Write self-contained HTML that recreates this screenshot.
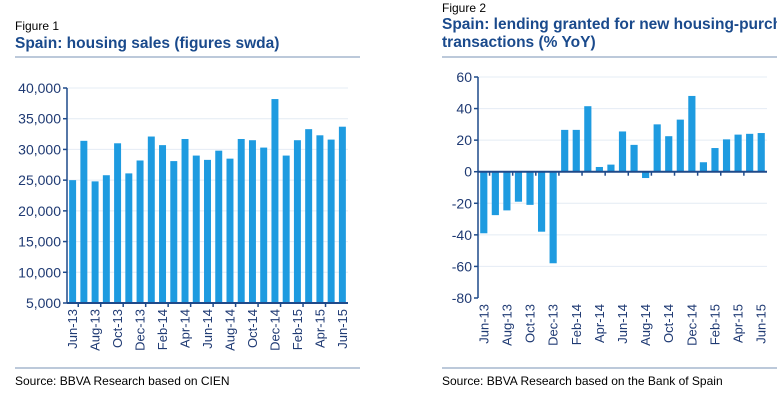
<!DOCTYPE html>
<html><head><meta charset="utf-8">
<style>
html,body{margin:0;padding:0;background:#fff;}
svg{display:block;font-family:"Liberation Sans",Arial,sans-serif;}
</style></head>
<body>
<svg id="s" width="777" height="400" xmlns="http://www.w3.org/2000/svg">
<g>
<text x="15" y="30" font-size="12" fill="#000">Figure 1</text>
<text x="15" y="48" font-size="15.5" font-weight="bold" fill="#1a4a8c">Spain: housing sales (figures swda)</text>
<line x1="15" y1="57" x2="360" y2="57" stroke="#7a93b5" stroke-width="1"/>
</g>
<g>
<text x="442" y="12" font-size="12" fill="#000">Figure 2</text>
<text x="442" y="29" font-size="15.5" font-weight="bold" fill="#1a4a8c">Spain: lending granted for new housing-purchas</text>
<text x="442" y="47" font-size="15.5" font-weight="bold" fill="#1a4a8c">transactions (% YoY)</text>
<line x1="442" y1="57" x2="777" y2="57" stroke="#7a93b5" stroke-width="1"/>
</g>
<line x1="15" y1="368" x2="360" y2="368" stroke="#7a93b5"/>
<line x1="442" y1="368" x2="777" y2="368" stroke="#7a93b5"/>
<text x="15" y="385" font-size="12" fill="#000">Source: BBVA Research based on CIEN</text>
<text x="442" y="385" font-size="12" fill="#000">Source: BBVA Research based on the Bank of Spain</text>
<g id="c1"></g>
<g id="c2"></g>
</svg>
<script>
const months = ["Jun-13","Jul-13","Aug-13","Sep-13","Oct-13","Nov-13","Dec-13","Jan-14","Feb-14","Mar-14","Apr-14","May-14","Jun-14","Jul-14","Aug-14","Sep-14","Oct-14","Nov-14","Dec-14","Jan-15","Feb-15","Mar-15","Apr-15","May-15","Jun-15"];
const sales = [25000,31400,24800,25800,31000,26100,28200,32100,30700,28100,31700,29000,28300,29800,28500,31700,31500,30300,38200,29000,31500,33300,32300,31600,33700];
const salesTicks = [5000,10000,15000,20000,25000,30000,35000,40000];
const lending = [-39,-27.5,-24.5,-19,-21,-38,-58,26.5,26.5,41.5,3,4.5,25.5,17,-4,30,22.5,33,48,6,15,20.5,23.5,24,24.5];
const lendingTicks = [-80,-60,-40,-20,0,20,40,60];

const NS="http://www.w3.org/2000/svg";
function mk(parent,tag,attrs){const e=document.createElementNS(NS,tag);for(const k in attrs)e.setAttribute(k,attrs[k]);parent.appendChild(e);return e;}
const BLUE="#1e9be0", AX="#1f4a8a", TXT="#1f3a73";

function draw(g, vals, ticks, x0, x1, yTop, yBot, vMin, vMax, base){
  const y=v=>yBot-(v-vMin)/(vMax-vMin)*(yBot-yTop);
  const bw=(x1-x0)/vals.length;
  ticks.forEach(t=>{
    if(t!==vMin && t!==base){
      const l=mk(g,'line',{x1:x0,x2:x1,y1:y(t),y2:y(t),stroke:'#e4ecf4','stroke-width':1});
      
      
    }
    const tx=mk(g,'text',{x:x0-6,y:y(t)+5,'font-size':14,'text-anchor':'end',fill:TXT});
    tx.textContent=t.toLocaleString('en-US');
    
    
    mk(g,'line',{x1:x0-4,x2:x0,y1:y(t),y2:y(t),stroke:AX,'stroke-width':1.5});
  });
  vals.forEach((v,i)=>{
    const cx=x0+bw*(i+0.5), w=bw*0.62;
    const r=mk(g,'rect',{x:cx-w/2,y:Math.min(y(v),y(base)),width:w,height:Math.abs(y(v)-y(base)),fill:BLUE});
    
    
  });
  mk(g,'line',{x1:x0,x2:x0,y1:yTop,y2:yBot,stroke:AX,'stroke-width':1.5});
  mk(g,'line',{x1:x0,x2:x1,y1:y(base),y2:y(base),stroke:AX,'stroke-width':2});
  vals.forEach((v,i)=>{
    if(i%2===1) mk(g,'line',{x1:x0+bw*i,x2:x0+bw*i,y1:y(base),y2:y(base)+4,stroke:AX,'stroke-width':1.5});
    if(i%2===0){
      const cx=x0+bw*(i+0.5);
      const t=mk(g,'text',{x:0,y:0,'font-size':13,'text-anchor':'end',fill:TXT,transform:`translate(${cx+4.5},${yBot+6}) rotate(-90)`});
      t.textContent=months[i];
      
      
    }
  });
}
draw(document.getElementById('c1'),sales,salesTicks,67,348,88,303,5000,40000,5000);
draw(document.getElementById('c2'),lending,lendingTicks,478,767,77,298,-80,60,0);
</script>
</body></html>
